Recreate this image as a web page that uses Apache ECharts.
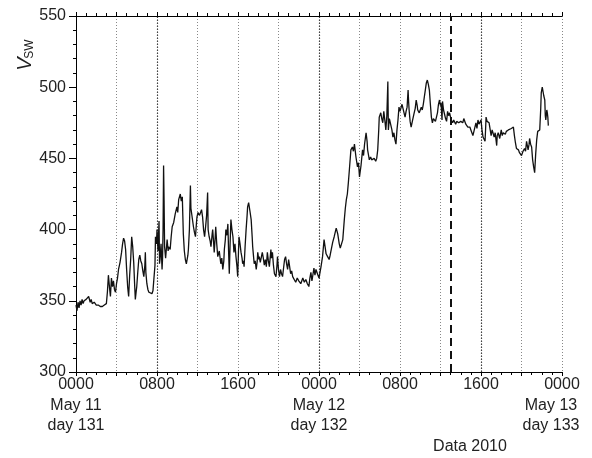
<!DOCTYPE html>
<html>
<head>
<meta charset="utf-8">
<script src="https://cdn.jsdelivr.net/npm/echarts@6/dist/echarts.min.js"></script>
<style>
html,body{margin:0;padding:0;background:#fff;}
#c{width:592px;height:458px;}
</style>
</head>
<body>
<div id="c"></div>
<script>
// Hours since 0000 UT on May 11 (day 131), 2010
var hours = [
  0,0.1,0.2,0.3,0.4,0.5,0.6,0.7,0.8,0.9,1.0,1.1,1.25,1.4,1.5,1.6,1.8,2.0,2.2,2.4,2.6,2.8,3.0,
  3.1,3.2,3.3,3.4,3.5,3.6,3.7,3.8,3.9,4.0,4.1,4.2,4.35,4.5,4.6,4.7,4.8,4.9,5.0,5.1,5.2,5.3,5.4,5.5,5.6,5.7,5.8,5.86,5.95,
  6.0,6.1,6.2,6.3,6.4,6.5,6.6,6.7,6.8,6.85,6.9,7.0,7.1,7.2,7.35,7.5,7.6,7.7,7.8,7.85,7.95,8.0,8.1,8.2,8.25,8.3,8.4,8.5,8.55,8.6,8.65,8.7,8.75,8.85,
  9.0,9.1,9.15,9.3,9.4,9.5,9.65,9.8,9.9,9.97,10.05,10.14,10.3,10.4,10.5,10.55,10.6,10.7,10.8,10.9,10.97,11.05,11.1,11.2,11.3,11.35,11.45,11.6,11.7,11.8,11.9,11.95,
  12.05,12.2,12.3,12.4,12.5,12.6,12.7,12.8,12.9,13.0,13.05,13.15,13.25,13.33,13.45,13.5,13.6,13.65,13.75,13.8,13.9,14.0,14.15,14.3,14.4,14.5,14.6,14.65,14.75,14.8,14.9,
  15.0,15.07,15.14,15.22,15.3,15.4,15.5,15.6,15.7,15.8,15.9,15.97,16.05,16.1,16.2,16.3,16.4,16.46,16.55,16.6,16.7,16.8,16.9,16.95,17.05,17.1,17.2,17.3,17.4,17.45,17.55,17.6,17.7,17.8,17.9,17.95,
  18.05,18.1,18.2,18.3,18.4,18.5,18.6,18.7,18.8,18.9,19.0,19.1,19.25,19.3,19.4,19.5,19.6,19.75,19.85,19.9,20.0,20.1,20.2,20.3,20.4,20.5,20.6,20.7,20.8,20.9,
  21.0,21.1,21.2,21.3,21.4,21.55,21.7,21.85,22.0,22.05,22.2,22.4,22.55,22.7,22.85,23.0,23.1,23.2,23.3,23.35,23.5,23.6,23.7,23.8,23.9,
  24.0,24.1,24.2,24.35,24.5,24.6,24.7,24.85,25.0,25.1,25.2,25.35,25.5,25.6,25.7,25.85,26.0,26.1,26.2,26.35,26.5,26.6,26.7,26.8,26.9,
  27.0,27.15,27.3,27.4,27.5,27.65,27.8,27.9,28.0,28.15,28.3,28.4,28.5,28.65,28.75,28.8,28.9,28.97,29.1,29.2,29.3,29.45,29.6,29.7,29.8,29.9,29.95,
  30.1,30.2,30.3,30.4,30.5,30.6,30.7,30.8,30.85,30.95,31.1,31.2,31.3,31.4,31.5,31.6,31.7,31.8,31.9,32.0,32.1,32.2,32.3,32.4,32.5,32.6,32.7,32.8,32.85,32.9,
  33.0,33.1,33.25,33.4,33.5,33.6,33.7,33.75,33.9,34.0,34.1,34.2,34.3,34.4,34.5,34.6,34.7,34.8,34.9,35.0,35.1,35.2,35.3,35.4,35.5,35.6,35.7,35.8,35.9,
  36.0,36.05,36.15,36.2,36.3,36.4,36.5,36.6,36.7,36.8,36.9,37.05,37.2,37.3,37.4,37.5,37.6,37.7,37.8,37.9,38.0,38.1,38.2,38.3,38.4,38.5,38.6,38.7,38.8,38.9,
  39.0,39.1,39.2,39.3,39.4,39.5,39.6,39.7,39.8,39.9,40.0,40.1,40.2,40.3,40.4,40.45,40.5,40.6,40.7,40.8,40.9,41.0,41.1,41.2,41.3,41.4,41.55,41.6,41.7,41.85,
  42.0,42.1,42.2,42.3,42.4,42.5,42.6,42.7,42.85,43.0,43.1,43.2,43.3,43.4,43.5,43.6,43.7,43.8,43.9,44.0,44.15,44.3,44.4,44.5,44.6,44.65,44.75,44.8,44.9,
  45.0,45.1,45.2,45.3,45.4,45.5,45.6,45.7,45.8,45.9,45.95,46.05,46.1,46.2,46.3,46.35,46.4,46.5,46.55,46.6,46.65
];
// Solar wind speed V_SW (km/s)
var vsw = [
  347,343,349,345,350,347,351,348,350,349,351,350,353,349,351,348,349,347,347,346,346,347,348,
  356,368,360,353,366,360,364,358,356,362,366,372,377,384,390,394,392,386,372,360,353,368,379,395,388,377,360,351,357,
  360,370,379,382,378,376,371,367,375,384,370,362,358,356,357,355,357,356,375,395,390,400,385,406,376,379,390,372,380,400,445,420,388,380,
  393,385,388,386,395,402,405,411,414,416,412,421,425,420,423,410,397,385,379,376,377,382,386,400,431,415,414,402,398,395,405,409,
  412,410,411,414,409,400,395,402,410,426,400,395,392,388,397,400,390,384,395,402,390,381,385,376,380,372,378,386,393,400,396,
  404,385,369,390,407,400,395,384,390,381,374,367,385,395,390,384,380,376,378,374,388,400,410,416,419,418,412,407,395,388,380,376,378,372,378,384,
  379,381,377,376,384,380,375,379,374,384,378,374,386,380,384,375,369,367,375,381,372,367,372,369,367,373,379,381,376,372,
  379,374,369,371,367,365,363,366,364,365,362,366,363,365,362,360,366,370,364,366,373,368,372,371,368,
  366,370,374,381,393,388,383,381,379,382,381,391,395,398,401,397,390,387,386,393,407,415,421,425,433,
  442,456,458,455,460,451,444,447,437,445,456,452,460,468,462,456,452,449,451,449,449,450,448,450,456,470,479,
  482,478,475,483,477,470,480,504,470,478,477,470,465,468,463,460,470,477,486,483,482,488,485,482,479,483,486,498,490,484,
  476,472,477,482,485,491,487,484,482,484,486,484,488,493,498,503,505,502,498,488,479,475,478,477,476,475,482,488,491,
  487,489,477,490,484,481,478,476,483,480,482,477,475,477,476,474,476,477,475,474,476,476,475,478,477,474,473,472,473,472,
  470,468,466,469,470,475,471,477,474,474,477,470,465,464,462,470,479,476,477,475,474,466,470,469,465,468,459,466,468,464,
  470,466,468,469,467,469,468,470,469,471,470,472,466,461,457,458,456,454,455,452,455,457,455,462,458,456,460,464,460,
  458,449,444,440,453,463,469,468,470,485,496,500,501,494,491,480,477,484,482,479,473
];
var dateLabels = {0: ['May 11', 'day 131'], 24: ['May 12', 'day 132'], 48: ['May 13', 'day 133']};
var yTicks = [300, 350, 400, 450, 500, 550];
var strongDotted = [8, 24, 40];
var dashedMark = 37;

if (hours.length !== vsw.length) console.error('length mismatch', hours.length, vsw.length);
var data = hours.map(function (h, i) { return [h, vsw[i]]; });

var FONT = 'Liberation Sans, Arial, Helvetica, sans-serif';
var chart = echarts.init(document.getElementById('c'), null, {renderer: 'canvas'});

function fmtHour(v) {
  if (v % 8 !== 0) return '';
  var h = v % 24;
  var s = (h < 10 ? '0' : '') + h + '00';
  if (dateLabels[v] !== undefined) {
    var key = v === 48 ? 'e' : 'd';
    return '{t|' + s + '}\n{' + key + '|' + dateLabels[v][0] + '}\n{' + key + '|' + dateLabels[v][1] + '}';
  }
  return '{t|' + s + '}';
}

var axisLine = {show: true, lineStyle: {color: '#000', width: 1}};

var option = {
  animation: false,
  backgroundColor: '#fff',
  grid: {left: 76, right: 30, top: 16, bottom: 86, containLabel: false, outerBoundsMode: 'none'},
  xAxis: [{
    type: 'value', min: 0, max: 48, interval: 4,
    axisLine: axisLine,
    axisTick: {show: true, inside: false, length: 4, lineStyle: {color: '#000'}},
    minorTick: {show: true, splitNumber: 4, length: 3, lineStyle: {color: '#000'}},
    splitLine: {show: true, lineStyle: {color: '#888', width: 1, type: [1, 2]}},
    axisLabel: {
      show: true, margin: 2, formatter: fmtHour, color: '#222', fontFamily: FONT, fontSize: 16,
      showMinLabel: true, showMaxLabel: true, hideOverlap: false,
      rich: {
        t: {fontSize: 16, lineHeight: 22, fontFamily: FONT, color: '#222'},
        d: {fontSize: 16, lineHeight: 20, fontFamily: FONT, color: '#222'},
        e: {fontSize: 16, lineHeight: 20, fontFamily: FONT, color: '#222', padding: [0, 22, 0, 0]}
      }
    }
  }, {
    type: 'value', min: 0, max: 48, interval: 4, position: 'top',
    axisLine: axisLine,
    axisTick: {show: true, inside: false, length: 4, lineStyle: {color: '#000'}},
    minorTick: {show: true, splitNumber: 4, length: 3, lineStyle: {color: '#000'}},
    splitLine: {show: false},
    axisLabel: {show: false}
  }],
  yAxis: [{
    type: 'value', min: 300, max: 550, interval: 50,
    axisLine: axisLine,
    axisTick: {show: true, inside: false, length: 7, lineStyle: {color: '#000'}},
    minorTick: {show: true, splitNumber: 5, length: 3, lineStyle: {color: '#000'}},
    splitLine: {show: false},
    axisLabel: {show: true, margin: 10, color: '#222', fontFamily: FONT, fontSize: 16,
      formatter: function (v) { return yTicks.indexOf(v) >= 0 ? String(v) : ''; }}
  }, {
    type: 'value', min: 300, max: 550, interval: 50, position: 'right',
    axisLine: axisLine,
    axisTick: {show: true, inside: true, length: 6, lineStyle: {color: '#000'}},
    minorTick: {show: true, splitNumber: 5, length: 3, lineStyle: {color: '#000'}},
    splitLine: {show: false},
    axisLabel: {show: false}
  }],
  series: [{
    type: 'line',
    xAxisIndex: 0, yAxisIndex: 0,
    data: data,
    showSymbol: false, symbol: 'none',
    lineStyle: {color: '#111', width: 1.3},
    z: 5,
    markLine: {
      silent: true, symbol: 'none', label: {show: false},
      data: strongDotted.map(function (x) {
        return {xAxis: x, lineStyle: {color: '#444', width: 1.2, type: [1, 2]}};
      }).concat([{xAxis: dashedMark, lineStyle: {color: '#111', width: 2, type: [8, 5]}}])
    }
  }],
  graphic: [
    {type: 'text', x: 25, y: 64, rotation: Math.PI / 2,
      style: {text: 'V', font: 'italic 20px ' + FONT, fill: '#222', align: 'center', verticalAlign: 'middle'}},
    {type: 'text', x: 30, y: 49, rotation: Math.PI / 2,
      style: {text: 'SW', font: '12px ' + FONT, fill: '#222', align: 'center', verticalAlign: 'middle'}},
    {type: 'text', x: 470, y: 447, style: {text: 'Data 2010', font: '16px ' + FONT, fill: '#222', align: 'center', verticalAlign: 'middle'}}
  ]
};
chart.setOption(option);
</script>
</body>
</html>
